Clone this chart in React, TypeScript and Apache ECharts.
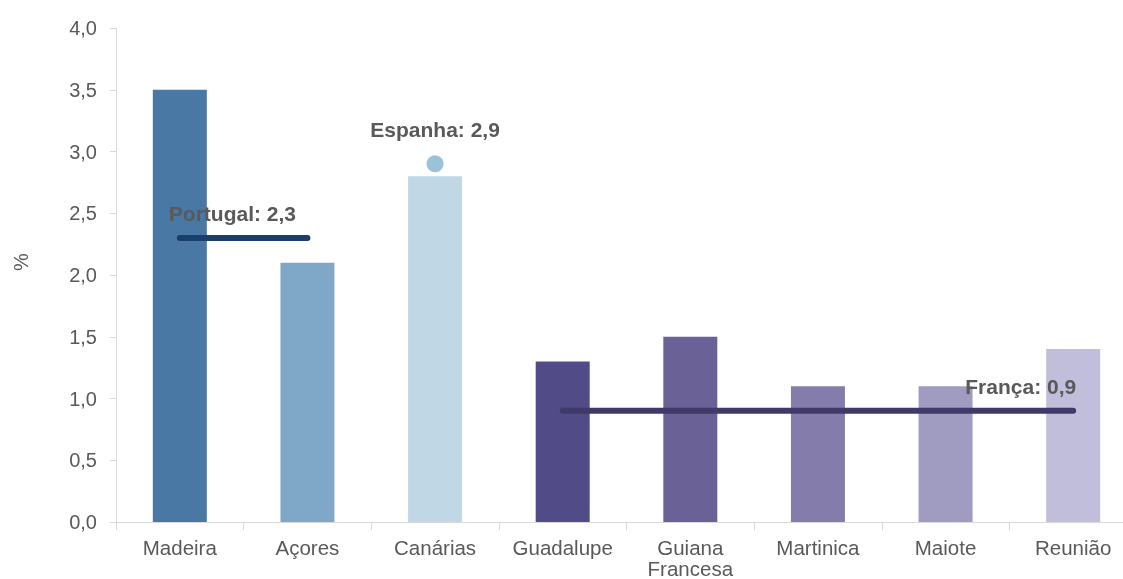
import React, { useEffect, useRef } from "react";
import * as echarts from "echarts";

const categories = ["Madeira", "Açores", "Canárias", "Guadalupe", "Guiana\nFrancesa", "Martinica", "Maiote", "Reunião"];
const values = [3.5, 2.1, 2.8, 1.3, 1.5, 1.1, 1.1, 1.4];
const barColors = ["#4878a3", "#7fa7c8", "#c0d8e5", "#514b87", "#6a6296", "#847caa", "#a09bc0", "#c1bedb"];
const portugal = 2.3;
const espanha = 2.9;
const franca = 0.9;

const fmt = (v: number) => v.toFixed(1).replace(".", ",");

export default function App() {
  const ref = useRef<HTMLDivElement>(null);
  useEffect(() => {
    if (!ref.current) return;
    const chart = echarts.init(ref.current, undefined, { renderer: "svg" });
    const font = "'Liberation Sans', Arial, sans-serif";
    const ptData = categories.map((_, i) => (i <= 1 ? portugal : "-"));
    const esData = categories.map((_, i) => (i === 2 ? espanha : "-"));
    const frData = categories.map((_, i) => (i >= 3 ? franca : "-"));
    const labelStyle = { fontFamily: font, fontSize: 21, fontWeight: "bold" as const, color: "#595959" };
    chart.setOption({
      animation: false,
      grid: { left: 116, top: 28, width: 1021, height: 494, outerBoundsMode: "none", containLabel: false },
      xAxis: {
        type: "category",
        data: categories,
        axisLine: { lineStyle: { color: "#d9d9d9" } },
        axisTick: { show: true, interval: 0, length: 8, lineStyle: { color: "#d9d9d9" } },
        axisLabel: { interval: 0, hideOverlap: false, color: "#595959", fontFamily: font, fontSize: 20.5, margin: 15, lineHeight: 21 },
      },
      yAxis: {
        type: "value",
        min: 0,
        max: 4,
        interval: 0.5,
        name: "%",
        nameLocation: "middle",
        nameGap: 85,
        nameRotate: 90,
        nameTextStyle: { color: "#595959", fontFamily: font, fontSize: 20, padding: [0, 0, 0, 26] },
        splitLine: { show: false },
        axisLine: { show: true, lineStyle: { color: "#d9d9d9" } },
        axisTick: { show: true, length: 6, lineStyle: { color: "#d9d9d9" } },
        axisLabel: { color: "#595959", fontFamily: font, fontSize: 20, margin: 19, formatter: (v: number) => fmt(v) },
      },
      series: [
        {
          type: "bar",
          barWidth: 54,
          data: values.map((v, i) => ({ value: v, itemStyle: { color: barColors[i] } })),
          z: 1,
        },
        {
          type: "line",
          data: ptData.map((v, i) =>
            i === 0
              ? { value: v, label: { show: true, position: "top", align: "left", offset: [-11, -9], formatter: "Portugal: " + fmt(portugal), ...labelStyle } }
              : v
          ),
          symbol: "circle",
          symbolSize: 0,
          showSymbol: true,
          itemStyle: { color: "#1b3f6b" },
          lineStyle: { color: "#1b3f6b", width: 6, cap: "round" },
          z: 3,
        },
        {
          type: "line",
          data: frData.map((v, i) =>
            i === categories.length - 1
              ? { value: v, label: { show: true, position: "top", align: "right", offset: [3, -9], formatter: "França: " + fmt(franca), ...labelStyle } }
              : v
          ),
          symbol: "circle",
          symbolSize: 0,
          showSymbol: true,
          itemStyle: { color: "#403a6b" },
          lineStyle: { color: "#403a6b", width: 6, cap: "round" },
          z: 3,
        },
        {
          type: "scatter",
          data: esData,
          symbolSize: 17,
          itemStyle: { color: "#9ac2d8", opacity: 1 },
          label: { show: true, position: "top", distance: 15, formatter: "Espanha: " + fmt(espanha), ...labelStyle },
          z: 3,
        },
      ],
    });
    return () => chart.dispose();
  }, []);
  return <div ref={ref} style={{ position: "fixed", left: 0, top: 0, width: 1123, height: 579 }} />;
}
